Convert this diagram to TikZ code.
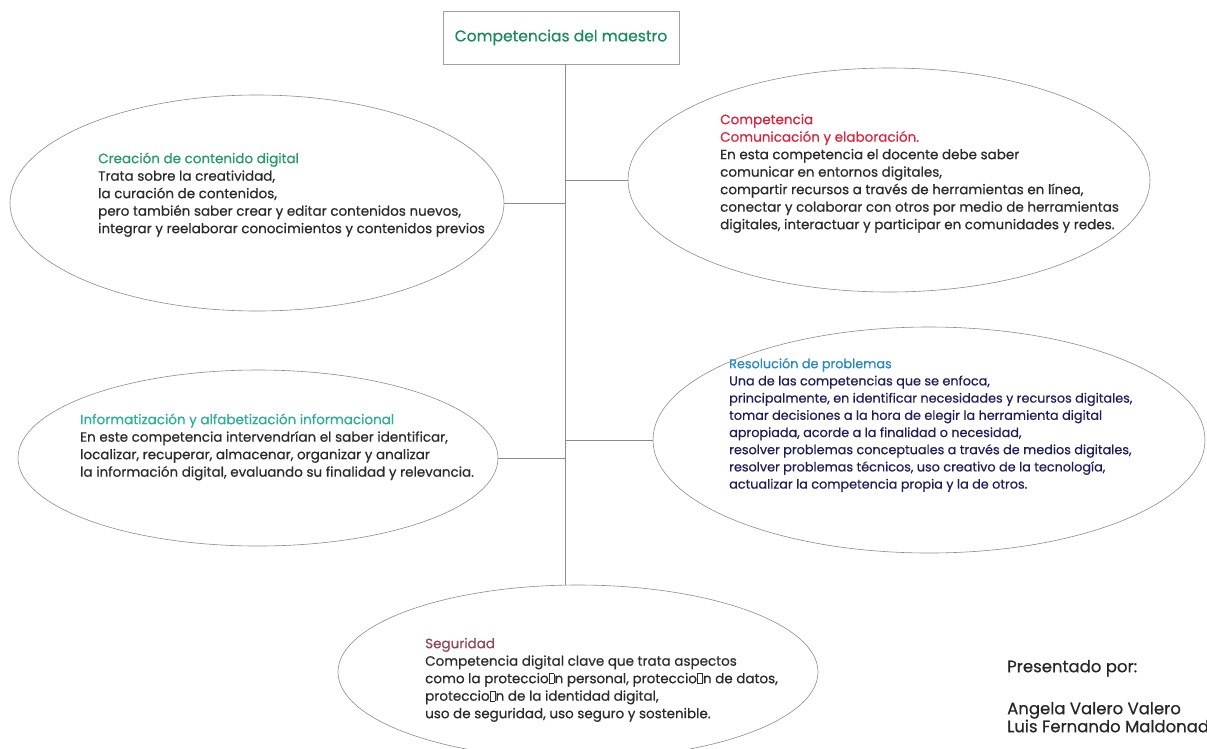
\documentclass[tikz,border=0pt]{standalone}
\usepackage{fontspec}
\setmainfont{Poppins}[FakeBold=0.5]
\usetikzlibrary{shapes.geometric}
\definecolor{linegray}{HTML}{8C8C8C}
\definecolor{boxgray}{HTML}{A0A0A0}
\definecolor{bodygray}{HTML}{2B2B2B}
\definecolor{titlegreen}{HTML}{1B8A5E}
\definecolor{cgreen}{HTML}{2A9A6C}
\definecolor{cred}{HTML}{D6273F}
\definecolor{cteal}{HTML}{2EAE9B}
\definecolor{cblue}{HTML}{2B86C2}
\definecolor{cnavy}{HTML}{1E1E5A}
\definecolor{cmauve}{HTML}{8E4A57}
\newcommand{\nfbox}{\kern0.4pt{\fboxsep=0pt\fboxrule=0.45pt\fbox{\rule{0pt}{0.7em}\hspace{0.32em}}}\kern0.4pt}
\newcommand{\fstrut}{\rule{0pt}{12pt}}
\begin{document}
\begin{tikzpicture}[x=1pt,y=-1pt,
  ell/.style={ellipse, draw=linegray, line width=0.6pt, inner sep=0pt},
  conn/.style={draw=linegray, line width=0.7pt},
  txt/.style={anchor=north west, inner sep=0pt, align=left, text=bodygray,
    font=\fontsize{13.5}{17.5}\selectfont},
]
\useasboundingbox (0,0) rectangle (1207,748);
\fill[white] (0,0) rectangle (1207,748);

% title
\node[draw=boxgray, line width=0.6pt, rectangle, minimum width=236pt, minimum height=53pt,
  inner sep=0pt, text=titlegreen, font=\fontsize{15.5}{18}\selectfont] (title) at (561,37.5)
  {Competencias del maestro};

% ellipses
\node[ell, minimum width=494pt, minimum height=216pt] (c1) at (257,203) {};
\node[ell, minimum width=522pt, minimum height=224pt] (c2) at (889,180) {};
\node[ell, minimum width=480pt, minimum height=176pt] (c3) at (258,458) {};
\node[ell, minimum width=552pt, minimum height=226pt] (c4) at (929,440) {};
\node[ell, minimum width=480pt, minimum height=174pt] (seg) at (578,672) {};

% connectors
\coordinate (tr) at (565,0);
\draw[conn] (title.south -| tr) -- (seg.north -| tr);
\draw[conn] (c1.east) -- (c1.east -| tr);
\draw[conn] (c2.west) -- (c2.west -| tr);
\draw[conn] (c3.east) -- (c3.east -| tr);
\draw[conn] (c4.west) -- (c4.west -| tr);

% texts
\node[txt] (t1) at (98,151) {\fstrut\textcolor{cgreen}{Creación de contenido digital}\\
Trata sobre la creatividad,\\
la curación de contenidos,\\
pero también saber crear y editar contenidos nuevos,\\
integrar y reelaborar conocimientos y contenidos previos};

\node[txt] (t2) at (720,112) {\fstrut\textcolor{cred}{Competencia}\\
\textcolor{cred}{Comunicación y elaboración.}\\
En esta competencia el docente debe saber\\
comunicar en entornos digitales,\\
compartir recursos a través de herramientas en línea,\\
conectar y colaborar con otros por medio de herramientas\\
digitales, interactuar y participar en comunidades y redes.};

\node[txt] (t3) at (80,412) {\fstrut\textcolor{cteal}{Informatización y alfabetización informacional}\\
En este competencia intervendrían el saber identificar,\\
localizar, recuperar, almacenar, organizar y analizar\\
la información digital, evaluando su finalidad y relevancia.};

\node[txt, text=cnavy, font=\fontsize{12.8}{17.2}\selectfont] (t4) at (729,356) {\fstrut\textcolor{cblue}{Resolución de problemas}\\
Una de las competencias que se enfoca,\\
principalmente, en identificar necesidades y recursos digitales,\\
tomar decisiones a la hora de elegir la herramienta digital\\
apropiada, acorde a la finalidad o necesidad,\\
resolver problemas conceptuales a través de medios digitales,\\
resolver problemas técnicos, uso creativo de la tecnología,\\
actualizar la competencia propia y la de otros.};

\node[txt] (t5) at (425,636) {\fstrut\textcolor{cmauve}{Seguridad}\\
Competencia digital clave que trata aspectos\\
como la proteccio\nfbox n personal, proteccio\nfbox n de datos,\\
proteccio\nfbox n de la identidad digital,\\
uso de seguridad, uso seguro y sostenible.};

\node[txt, text=black!85, font=\fontsize{16.5}{18}\selectfont] (pres) at (1007,659)
{\rule{0pt}{13pt}Presentado por:\\[24pt]
Angela Valero Valero\\
Luis Fernando Maldonad};
\end{tikzpicture}
\end{document}
